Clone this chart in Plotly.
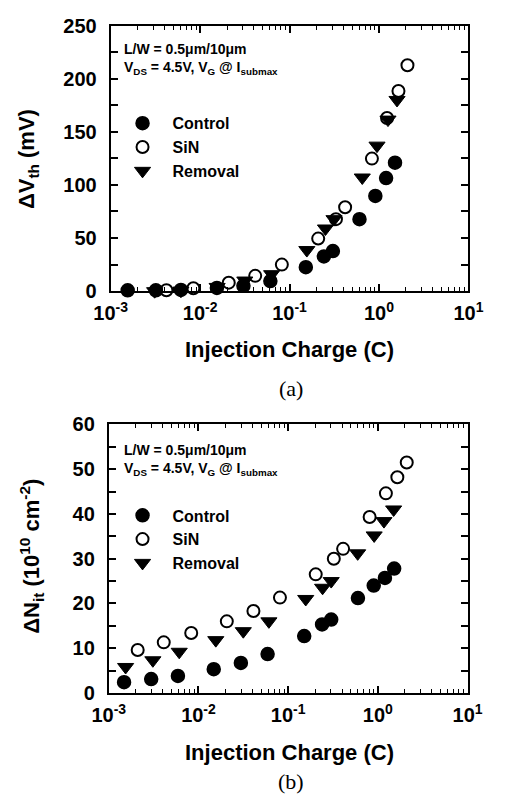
import plotly.graph_objects as go

# ---------------- data ----------------
# Panel (a): Delta Vth (mV) vs injection charge (C)
a_ctrl_x = [0.00155, 0.0032, 0.0061, 0.0154, 0.0305, 0.061, 0.152, 0.242, 0.305, 0.605, 0.91, 1.2, 1.51]
a_ctrl_y = [0.8, 0.8, 1.2, 3, 5, 9.5, 22.6, 32.7, 37.8, 67.8, 89.7, 106.5, 121]
a_sin_x = [0.0042, 0.0084, 0.0209, 0.0413, 0.082, 0.209, 0.33, 0.418, 0.833, 1.23, 1.65, 2.08]
a_sin_y = [0.8, 2.7, 8, 14.4, 25, 49.5, 67.8, 79, 124.8, 163, 188.4, 212.7]
a_rem_x = [0.0031, 0.0061, 0.0155, 0.0316, 0.063, 0.156, 0.252, 0.314, 0.65, 0.95, 1.26, 1.59]
a_rem_y = [0.0, 0.5, 4, 10, 16, 38.7, 59, 67.8, 107, 137, 161.5, 180]

# Panel (b): Delta Nit (1e10 cm^-2) vs injection charge (C)
b_ctrl_x = [0.00148, 0.00297, 0.0059, 0.0148, 0.0297, 0.059, 0.151, 0.239, 0.302, 0.6, 0.9, 1.2, 1.52]
b_ctrl_y = [2.4, 3.1, 3.8, 5.3, 6.7, 8.7, 12.7, 15.3, 16.4, 21.2, 24.0, 25.7, 27.8]
b_sin_x = [0.0021, 0.0041, 0.0083, 0.0207, 0.041, 0.081, 0.203, 0.323, 0.41, 0.81, 1.23, 1.65, 2.1]
b_sin_y = [9.6, 11.3, 13.4, 16.0, 18.3, 21.3, 26.5, 30.0, 32.2, 39.3, 44.6, 48.2, 51.5]
b_rem_x = [0.00154, 0.0031, 0.0061, 0.0156, 0.0316, 0.061, 0.157, 0.242, 0.302, 0.596, 0.91, 1.17, 1.5]
b_rem_y = [5.8, 7.3, 9.2, 11.8, 13.8, 16.0, 21.0, 23.5, 25.0, 31.2, 35.2, 38.4, 41.0]

series_names = ["Control", "SiN", "Removal"]
x_tickvals = [0.001, 0.01, 0.1, 1, 10]
x_ticktext = ["10<sup>-3</sup>", "10<sup>-2</sup>", "10<sup>-1</sup>", "10<sup>0</sup>", "10<sup>1</sup>"]
x_minor = [m * d for d in (0.001, 0.01, 0.1, 1) for m in range(2, 10)]
a_yticks = [0, 50, 100, 150, 200, 250]
a_yminor = [25, 75, 125, 175, 225]
b_yticks = [0, 10, 20, 30, 40, 50, 60]
b_yminor = [5, 15, 25, 35, 45, 55]

# ---------------- figure ----------------
W, H = 505, 809
FONT = "Liberation Sans, Arial, sans-serif"
SERIF = "Liberation Serif, Times New Roman, serif"


def px_x(p):
    return p / W


def px_y(p):
    return 1 - p / H


fig = go.Figure()

styles = {
    "Control": dict(symbol="circle", size=13, color="black", line=dict(color="black", width=1.5)),
    "SiN": dict(symbol="circle", size=12, color="white", line=dict(color="black", width=2)),
    "Removal": dict(symbol="triangle-down", size=14, color="black", line=dict(color="black", width=1)),
}
ranks = {"Control": 1, "SiN": 2, "Removal": 3}

panels = [
    ("x", "y", "legend", {"SiN": (a_sin_x, a_sin_y), "Removal": (a_rem_x, a_rem_y), "Control": (a_ctrl_x, a_ctrl_y)}),
    ("x2", "y2", "legend2", {"SiN": (b_sin_x, b_sin_y), "Removal": (b_rem_x, b_rem_y), "Control": (b_ctrl_x, b_ctrl_y)}),
]
for xa, ya, leg, data in panels:
    for name in ["SiN", "Removal", "Control"]:
        xs, ys = data[name]
        fig.add_trace(go.Scatter(
            x=xs, y=ys, mode="markers", name=name, xaxis=xa, yaxis=ya,
            marker=styles[name], legend=leg, legendrank=ranks[name],
            cliponaxis=False,
        ))

xcommon = dict(
    type="log", range=[-3, 1], tickmode="array", tickvals=x_tickvals, ticktext=x_ticktext,
    ticks="inside", ticklen=7, tickwidth=1.5, tickcolor="black",
    showline=True, linecolor="black", linewidth=2, mirror="allticks",
    showgrid=False, zeroline=False, ticklabelstandoff=3,
    tickfont=dict(family=FONT, size=20, color="black", weight="bold"),
    minor=dict(tickmode="array", tickvals=x_minor, ticks="inside", ticklen=4,
               tickwidth=1.2, tickcolor="black", showgrid=False),
)
ycommon = dict(
    tickmode="array",
    ticks="inside", ticklen=7, tickwidth=1.5, tickcolor="black",
    showline=True, linecolor="black", linewidth=2, mirror="allticks",
    showgrid=False, zeroline=False, ticklabelstandoff=8,
    tickfont=dict(family=FONT, size=20, color="black", weight="bold"),
)

fig.update_layout(
    width=W, height=H,
    margin=dict(l=0, r=0, t=0, b=0),
    paper_bgcolor="white", plot_bgcolor="white",
    font=dict(family=FONT, color="black"),
    xaxis=dict(xcommon, domain=[px_x(100), px_x(482)], anchor="y"),
    yaxis=dict(ycommon, domain=[px_y(288), px_y(15)], anchor="x", range=[0, 250],
               tickvals=a_yticks,
               minor=dict(tickmode="array", tickvals=a_yminor, ticks="inside", ticklen=7,
                          tickwidth=1.5, tickcolor="black", showgrid=False)),
    xaxis2=dict(xcommon, domain=[px_x(98), px_x(481)], anchor="y2"),
    yaxis2=dict(ycommon, domain=[px_y(701), px_y(425)], anchor="x2", range=[0, 60],
                tickvals=b_yticks,
                minor=dict(tickmode="array", tickvals=b_yminor, ticks="inside", ticklen=7,
                           tickwidth=1.5, tickcolor="black", showgrid=False)),
    legend=dict(x=px_x(102), y=px_y(98), xanchor="left", yanchor="top",
                bgcolor="rgba(0,0,0,0)", itemwidth=50, tracegroupgap=0,
                font=dict(family=FONT, size=16, color="black", weight="bold")),
    legend2=dict(x=px_x(102), y=px_y(501), xanchor="left", yanchor="top",
                 bgcolor="rgba(0,0,0,0)", itemwidth=50, tracegroupgap=0,
                 font=dict(family=FONT, size=16, color="black", weight="bold")),
    showlegend=True,
)

ann = []
bold = dict(family=FONT, color="black", weight="bold")
# in-plot notes
for y0 in (39, 451):
    ann.append(dict(x=px_x(112), y=px_y(y0), xref="paper", yref="paper", xanchor="left", yanchor="middle",
                    text="L/W = 0.5\u03bcm/10\u03bcm", showarrow=False, font=dict(bold, size=14)))
    ann.append(dict(x=px_x(112), y=px_y(y0 + 20), xref="paper", yref="paper", xanchor="left", yanchor="middle",
                    text="V<sub>DS</sub> = 4.5V, V<sub>G</sub> @ I<sub>submax</sub>", showarrow=False,
                    font=dict(bold, size=14)))
# axis titles
for yc in (348, 762):
    ann.append(dict(x=px_x(291), y=px_y(yc), xref="paper", yref="paper", xanchor="center", yanchor="middle",
                    text="Injection Charge (C)", showarrow=False, font=dict(bold, size=22)))
ann.append(dict(x=px_x(12), y=px_y(152), xref="paper", yref="paper", xanchor="center", yanchor="middle",
                text="\u0394V<sub>th</sub> (mV)", textangle=-90, showarrow=False, font=dict(bold, size=22)))
ann.append(dict(x=px_x(16), y=px_y(560), xref="paper", yref="paper", xanchor="center", yanchor="middle",
                text="\u0394N<sub>it</sub> (10<sup>10</sup> cm<sup>-2</sup>)", textangle=-90, showarrow=False,
                font=dict(bold, size=22)))
# captions
ann.append(dict(x=px_x(293), y=px_y(388), xref="paper", yref="paper", xanchor="center", yanchor="middle",
                text="(a)", showarrow=False, font=dict(family=SERIF, size=22, color="black")))
ann.append(dict(x=px_x(293), y=px_y(792), xref="paper", yref="paper", xanchor="center", yanchor="middle",
                text="(b)", showarrow=False, font=dict(family=SERIF, size=22, color="black")))
fig.update_layout(annotations=ann)

fig.write_html("out.html")
